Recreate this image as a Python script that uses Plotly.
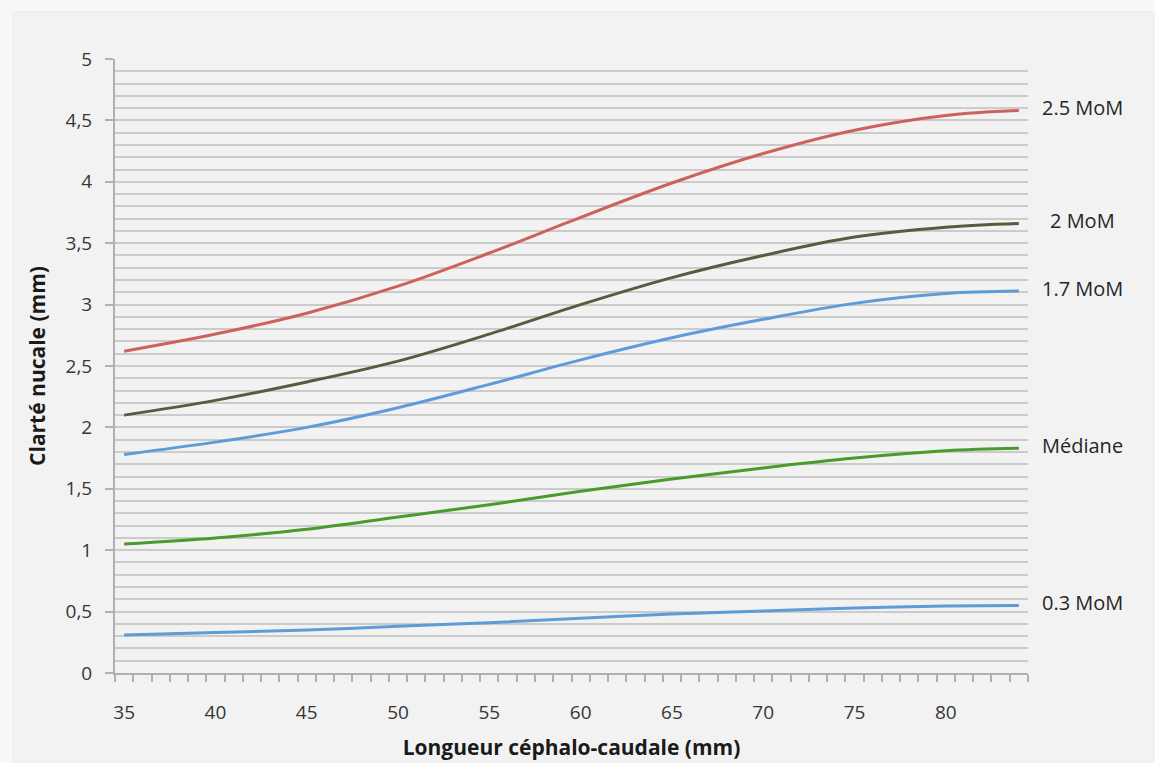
import plotly.graph_objects as go

# Longueur céphalo-caudale (mm) at which the curves are read
lcc = [35, 40, 45, 50, 55, 60, 65, 70, 75, 80, 84]

# Clarté nucale (mm) per reference curve
mom_25 = [2.62, 2.76, 2.93, 3.15, 3.42, 3.71, 3.99, 4.23, 4.42, 4.54, 4.58]
mom_20 = [2.10, 2.22, 2.37, 2.54, 2.76, 3.00, 3.22, 3.40, 3.55, 3.63, 3.66]
mom_17 = [1.78, 1.88, 2.00, 2.16, 2.35, 2.55, 2.73, 2.88, 3.01, 3.09, 3.11]
mediane = [1.05, 1.10, 1.17, 1.27, 1.37, 1.48, 1.58, 1.67, 1.75, 1.81, 1.83]
mom_03 = [0.31, 0.33, 0.35, 0.38, 0.41, 0.445, 0.48, 0.505, 0.53, 0.545, 0.55]

series = [
    ("2.5 MoM", mom_25, "#cc625d"),
    ("2 MoM", mom_20, "#5c5a3e"),
    ("1.7 MoM", mom_17, "#5e9bd8"),
    ("Médiane", mediane, "#4a9a2c"),
    ("0.3 MoM", mom_03, "#5e9bd8"),
]

# Axis ticks
x_labels = [35, 40, 45, 50, 55, 60, 65, 70, 75, 80]
x_bounds = [v + 0.5 for v in range(34, 85)]
y_major = [0, 0.5, 1, 1.5, 2, 2.5, 3, 3.5, 4, 4.5, 5]
y_major_text = ["0", "0,5", "1", "1,5", "2", "2,5", "3", "3,5", "4", "4,5", "5"]
y_grid = [round(k / 10, 1) for k in range(1, 50)]

FONT = "Open Sans"
TICK_COLOR = "#363636"
AXIS_COLOR = "#b0b0b0"
GRID_COLOR = "#cbcbcb"

fig = go.Figure()

# the curves live on the grid axis (y); y2 carries the labelled ticks
for name, values, color in series:
    fig.add_trace(go.Scatter(
        x=lcc, y=values, name=name, mode="lines",
        line=dict(color=color, width=3, shape="spline", smoothing=1.0),
        showlegend=False, hoverinfo="x+y+name",
    ))
    # curve label to the right of the plot
    fig.add_annotation(
        x=1.06, xref="paper", y=values[-1], yref="y", yshift=3,
        text=name, showarrow=False, xanchor="center",
        font=dict(family=FONT, size=20, color="#262626"),
    )

# empty trace so the labelled y2 axis is rendered
fig.add_trace(go.Scatter(x=[None], y=[None], yaxis="y2", mode="lines",
                         showlegend=False, hoverinfo="skip"))

L, R, T, B = 115, 127, 59, 90
W, H = 1155, 763
pw, ph = W - L - R, H - T - B

# card behind the chart
fig.add_shape(
    type="rect", xref="paper", yref="paper", layer="below",
    x0=(13 - L) / pw, x1=(W + 5 - L) / pw,
    y0=(H - B - (H + 5)) / ph, y1=(H - B - 12) / ph,
    fillcolor="#f2f2f2", line=dict(color="#ebebeb", width=1),
)

fig.update_layout(
    width=W, height=H,
    margin=dict(l=L, r=R, t=T, b=B, autoexpand=False),
    paper_bgcolor="#f8f8f8",
    plot_bgcolor="rgba(0,0,0,0)",
    font=dict(family=FONT, color=TICK_COLOR),
    xaxis=dict(
        range=[34.5, 84.5], tickmode="array", tickvals=x_labels,
        ticks="", ticklabelstandoff=21,
        tickfont=dict(family=FONT, size=19, color=TICK_COLOR),
        showgrid=False, zeroline=False, automargin=False,
        showline=True, linecolor=AXIS_COLOR, linewidth=2,
        minor=dict(tickmode="array", tickvals=x_bounds, ticks="outside",
                   ticklen=7, tickwidth=1.5, tickcolor=AXIS_COLOR, showgrid=False),
        title=dict(text="<b>Longueur céphalo-caudale (mm)</b>", standoff=17,
                   font=dict(family=FONT, size=21, color="#1a1a1a")),
    ),
    yaxis=dict(
        range=[0, 5], tickmode="array", tickvals=y_grid,
        showticklabels=False, ticks="", showline=False, zeroline=False,
        showgrid=True, gridcolor=GRID_COLOR, gridwidth=1.7, automargin=False,
    ),
    yaxis2=dict(
        range=[0, 5], overlaying="y", side="left",
        tickmode="array", tickvals=y_major, ticktext=y_major_text,
        ticks="outside", ticklen=8, tickwidth=1.5, tickcolor=AXIS_COLOR,
        ticklabelstandoff=9,
        tickfont=dict(family=FONT, size=19, color=TICK_COLOR),
        showgrid=False, zeroline=False, automargin=False,
        showline=True, linecolor=AXIS_COLOR, linewidth=2,
        title=dict(text="<b>Clarté nucale (mm)</b>", standoff=14,
                   font=dict(family=FONT, size=21, color="#1a1a1a")),
    ),
)

fig.write_html("out.html")
